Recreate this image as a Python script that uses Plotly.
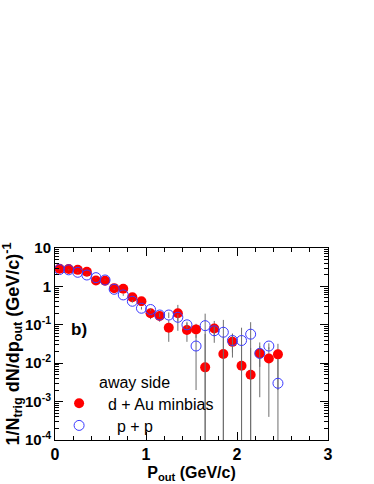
import plotly.graph_objects as go

# bin centres of p_out (GeV/c)
pout = [0.05, 0.15, 0.25, 0.35, 0.45, 0.55, 0.65, 0.75, 0.85, 0.95,
        1.05, 1.15, 1.25, 1.35, 1.45, 1.55, 1.65, 1.75, 1.85, 1.95,
        2.05, 2.15, 2.25, 2.35, 2.45]

# d + Au minbias
dau_val = [2.9, 2.85, 2.7, 2.4, 1.42, 1.40, 0.90, 0.87, 0.52, 0.41,
           0.20, 0.17, 0.084, 0.20, 0.073, 0.076, 0.0078, 0.08, 0.0174, 0.036,
           0.0086, 0.005, 0.018, 0.0132, 0.017]
dau_err = [0.08, 0.08, 0.08, 0.08, 0.06, 0.06, 0.05, 0.05, 0.04, 0.04,
           0.06, 0.05, 0.048, 0.13, 0.037, 0.03, 0.05, 0.046, 0.032, 0.022,
           0.021, 0.02, 0.0167, 0.0128, 0.015]

# p + p
pp_val = [2.75, 2.7, 2.33, 1.98, 1.69, 1.47, 0.84, 0.60, 0.41, 0.27,
          0.25, 0.18, 0.18, 0.157, 0.10, 0.028, 0.095, 0.07, 0.064, 0.039,
          0.039, 0.057, 0.018, 0.028, 0.003]
pp_err = [0.07, 0.07, 0.06, 0.05, 0.05, 0.04, 0.03, 0.03, 0.03, 0.02,
          0.02, 0.02, 0.03, 0.03, 0.02, 0.026, 0.1, 0.02, 0.07, 0.02,
          0.045, 0.06, 0.01, 0.005, 0.01]

ytick_vals = [1e-4, 1e-3, 1e-2, 1e-1, 1, 10]
ytick_text = ["10<sup>-4</sup>", "10<sup>-3</sup>", "10<sup>-2</sup>",
              "10<sup>-1</sup>", "1", "10"]

FONT = "Liberation Sans, Arial, Helvetica, sans-serif"
ERRC = "#6e6e6e"

fig = go.Figure()
fig.add_trace(go.Scatter(
    x=pout, y=dau_val, mode="markers", name="  d + Au minbias",
    legend="legend",
    marker=dict(symbol="circle", size=10, color="#ff0000",
                line=dict(width=0)),
    error_y=dict(type="data", array=dau_err, visible=True, width=0,
                 thickness=1, color=ERRC),
))
fig.add_trace(go.Scatter(
    x=pout, y=pp_val, mode="markers", name="    p + p",
    legend="legend2",
    marker=dict(symbol="circle-open", size=10, color="#3a3aff",
                line=dict(width=1, color="#3a3aff")),
    error_y=dict(type="data", array=pp_err, visible=True, width=0,
                 thickness=1, color=ERRC),
))

leg_common = dict(xanchor="left", yanchor="top", bgcolor="rgba(0,0,0,0)",
                  borderwidth=0, font=dict(size=16, family=FONT))

fig.update_layout(
    width=374, height=484,
    margin=dict(l=55, r=46, t=248, b=44, pad=0, autoexpand=False),
    paper_bgcolor="white", plot_bgcolor="white",
    font=dict(family=FONT, color="black"),
    showlegend=True,
    legend=dict(x=0.015, y=0.279, **leg_common),
    legend2=dict(x=0.015, y=0.164, **leg_common),
    annotations=[
        dict(text="<b>b)</b>", x=0.088, y=0.573, xref="paper", yref="paper",
             xanchor="center", yanchor="middle",
             showarrow=False, font=dict(size=17, family=FONT)),
        dict(text="away side", x=0.293, y=0.297, xref="paper", yref="paper",
             xanchor="center", yanchor="middle",
             showarrow=False, font=dict(size=16, family=FONT)),
    ],
)

fig.update_xaxes(
    range=[0, 3], showgrid=False, zeroline=False, automargin=False,
    showline=True, linecolor="black", linewidth=1, mirror="allticks",
    ticks="inside", ticklen=8, tickcolor="black", dtick=1, tick0=0,
    tickfont=dict(size=16, family=FONT, weight="bold"),
    minor=dict(ticks="inside", ticklen=4, dtick=0.2, tick0=0,
               tickcolor="black", showgrid=False),
    title=dict(text="P<sub>out</sub> (GeV/c)", standoff=4,
               font=dict(size=16, family=FONT, weight="bold")),
)
fig.update_yaxes(
    type="log", range=[-4, 1], showgrid=False, zeroline=False, automargin=False,
    showline=True, linecolor="black", linewidth=1, mirror="allticks",
    ticks="inside", ticklen=8, tickcolor="black",
    tickvals=ytick_vals, ticktext=ytick_text,
    tickfont=dict(size=15, family=FONT, weight="bold"),
    minor=dict(ticks="inside", ticklen=4, dtick="D1",
               tickcolor="black", showgrid=False),
    title=dict(text="1/N<sub>trig</sub> dN/dp<sub>out</sub> (GeV/c)<sup>-1</sup>",
               standoff=4, font=dict(size=18, family=FONT, weight="bold")),
)

fig.write_html("out.html",
               config={"displayModeBar": False},
               post_script="document.body.style.margin='0';"
                           "document.body.style.padding='0';")
